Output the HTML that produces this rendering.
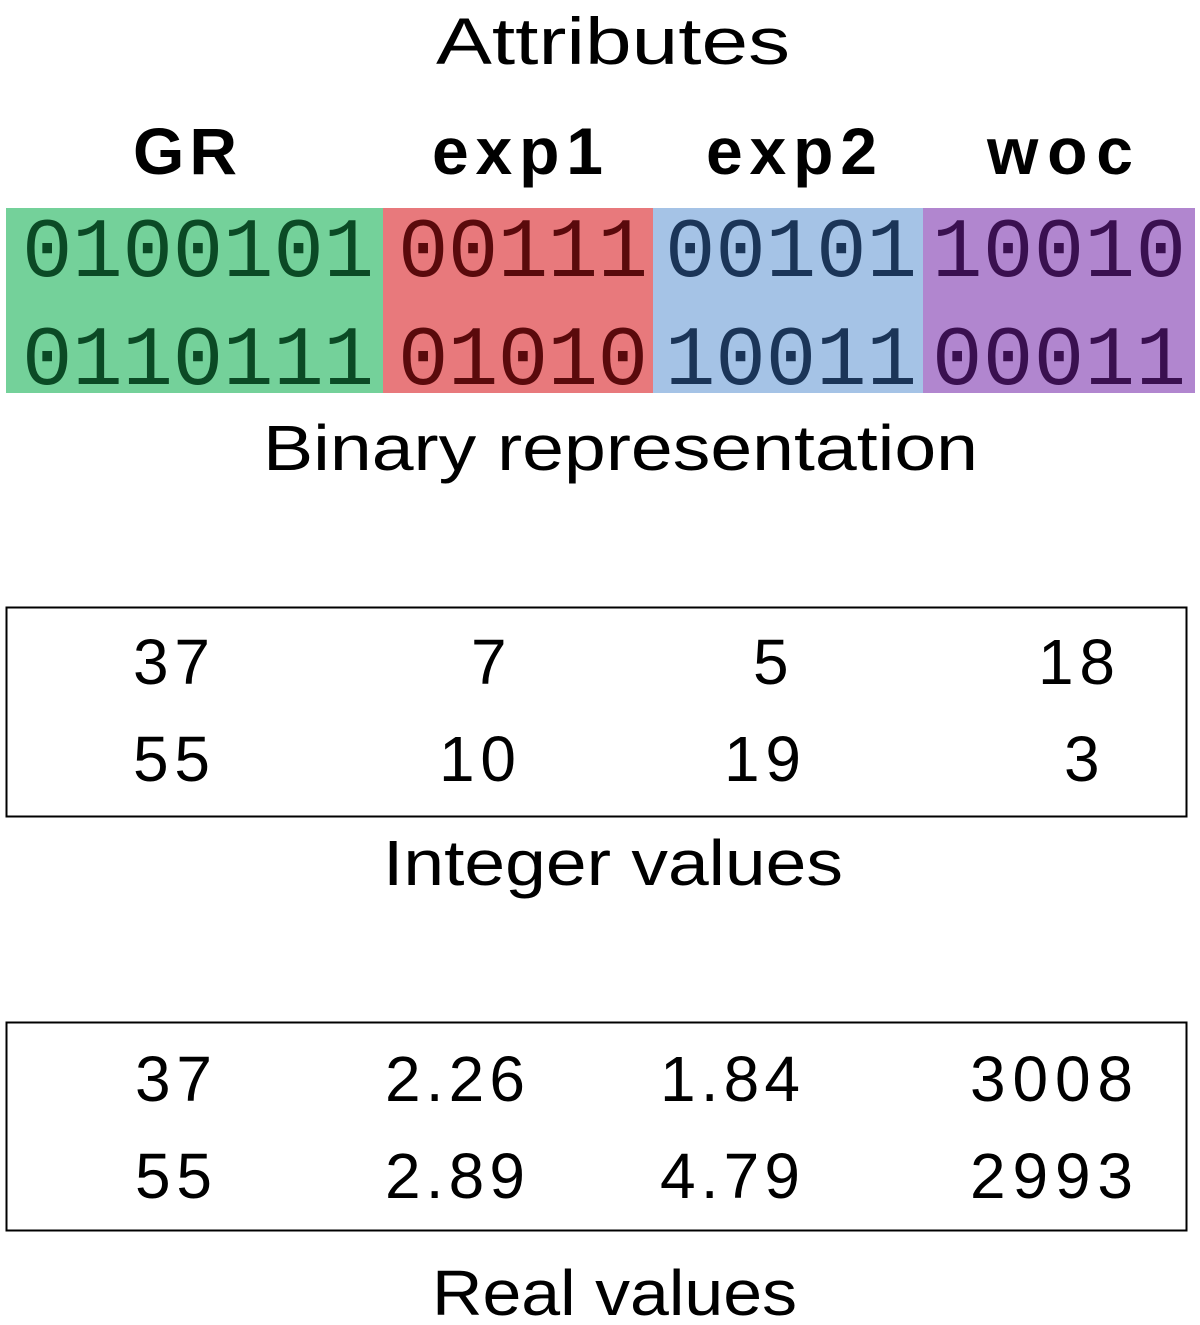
<!DOCTYPE html>
<html><head><meta charset="utf-8"><style>
html,body{margin:0;padding:0;background:#fff;}
svg{display:block;}
</style></head><body>
<svg width="1200" height="1325" viewBox="0 0 1200 1325" xmlns="http://www.w3.org/2000/svg" font-family="Liberation Sans, sans-serif">
<text x="436" y="64" font-size="66" textLength="354" lengthAdjust="spacingAndGlyphs">Attributes</text>
<g font-weight="bold" font-size="66" lengthAdjust="spacingAndGlyphs">
<text x="133" y="174" textLength="104">GR</text>
<text x="432" y="174" textLength="171">exp1</text>
<text x="706" y="174" textLength="171">exp2</text>
<text x="987" y="174" textLength="146">woc</text>
</g>
<rect x="6" y="208" width="377" height="185" fill="#74d19a"/>
<rect x="383" y="208" width="270" height="185" fill="#e8797c"/>
<rect x="653" y="208" width="270" height="185" fill="#a5c3e6"/>
<rect x="923" y="208" width="272" height="185" fill="#b186cf"/>
<g font-family="Liberation Mono, monospace" font-size="84" lengthAdjust="spacing">
<text x="22" y="276" textLength="352" fill="#0b4a25">0100101</text>
<text x="22" y="384" textLength="352" fill="#0b4a25">0110111</text>
<text x="398" y="276" textLength="250" fill="#5a0a0c">00111</text>
<text x="398" y="384" textLength="250" fill="#5a0a0c">01010</text>
<text x="665" y="276" textLength="252" fill="#1b3558">00101</text>
<text x="665" y="384" textLength="252" fill="#1b3558">10011</text>
<text x="932" y="276" textLength="254" fill="#3a1050">10010</text>
<text x="932" y="384" textLength="254" fill="#3a1050">00011</text>
</g>
<text x="263" y="470" font-size="64" textLength="715" lengthAdjust="spacingAndGlyphs">Binary representation</text>
<rect x="6.5" y="607.5" width="1180" height="209" fill="none" stroke="#000" stroke-width="2"/>
<g font-size="64" lengthAdjust="spacingAndGlyphs">
<text x="133" y="684" textLength="77">37</text>
<text x="471" y="684" textLength="38">7</text>
<text x="753" y="684" textLength="38">5</text>
<text x="1038" y="684" textLength="77">18</text>
<text x="133" y="781" textLength="77">55</text>
<text x="439" y="781" textLength="77">10</text>
<text x="724" y="781" textLength="77">19</text>
<text x="1064" y="781" textLength="38">3</text>
</g>
<text x="383" y="885" font-size="64" textLength="460" lengthAdjust="spacingAndGlyphs">Integer values</text>
<rect x="6.5" y="1022.5" width="1180" height="208" fill="none" stroke="#000" stroke-width="2"/>
<g font-size="64" lengthAdjust="spacingAndGlyphs">
<text x="135" y="1101" textLength="77">37</text>
<text x="385" y="1101" textLength="140">2.26</text>
<text x="660" y="1101" textLength="140">1.84</text>
<text x="970" y="1101" textLength="163">3008</text>
<text x="135" y="1198" textLength="77">55</text>
<text x="385" y="1198" textLength="140">2.89</text>
<text x="660" y="1198" textLength="140">4.79</text>
<text x="970" y="1198" textLength="163">2993</text>
</g>
<text x="432" y="1315" font-size="64" textLength="365" lengthAdjust="spacingAndGlyphs">Real values</text>
</svg>
</body></html>
